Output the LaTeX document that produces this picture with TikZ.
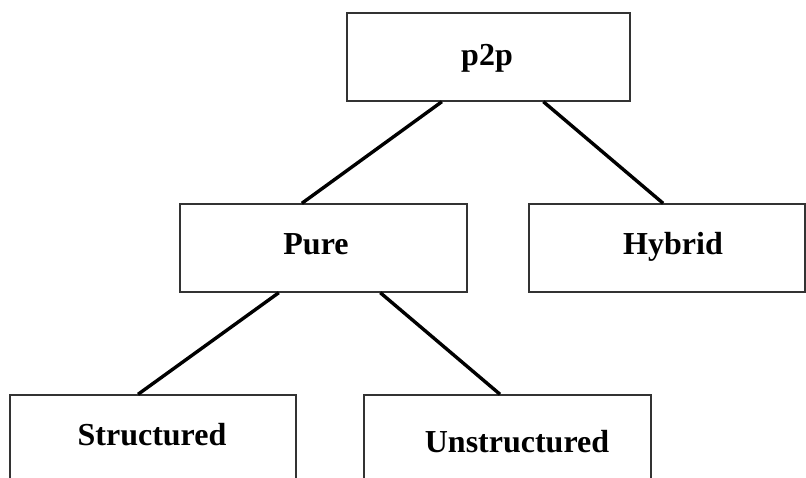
\documentclass[tikz,border=0pt]{standalone}
\usepackage{fontspec}
\setmainfont{Liberation Serif}
\usetikzlibrary{calc}
\begin{document}
\begin{tikzpicture}[x=1pt,y=-1pt,
  box/.style={draw=black!80, line width=1.4pt, fill=white, inner sep=0pt, minimum height=88pt},
  lbl/.style={font=\fontsize{32}{36}\selectfont\bfseries, inner sep=0pt, anchor=base},
  link/.style={draw=black, line width=3.4pt}]
\useasboundingbox (0,0) rectangle (806,478);
\clip (0,0) rectangle (806,478);
% boxes
\node[box, minimum width=283pt] (p2p) at (488.5,57) {};
\node[box, minimum width=287pt] (pure) at (323.5,248) {};
\node[box, minimum width=276pt] (hybrid) at (667,248) {};
\node[box, minimum width=286pt] (struct) at (153,439) {};
\node[box, minimum width=287pt] (unstruct) at (507.5,439) {};
% labels
\node[lbl] (tp2p) at (487,66) {p2p};
\node[lbl] (tpure) at (316,255) {Pure};
\node[lbl] (thybrid) at (673,255) {Hybrid};
\node[lbl] (tstruct) at (152,445) {Structured};
\node[lbl] (tunstruct) at (517,452) {Unstructured};
% connectors
\draw[link] ($(p2p.south west)!0.336!(p2p.south east)$) -- ($(pure.north west)!0.425!(pure.north east)$);
\draw[link] ($(p2p.south west)!0.693!(p2p.south east)$) -- ($(hybrid.north west)!0.486!(hybrid.north east)$);
\draw[link] ($(pure.south west)!0.345!(pure.south east)$) -- ($(struct.north west)!0.448!(struct.north east)$);
\draw[link] ($(pure.south west)!0.697!(pure.south east)$) -- ($(unstruct.north west)!0.474!(unstruct.north east)$);
\end{tikzpicture}
\end{document}
